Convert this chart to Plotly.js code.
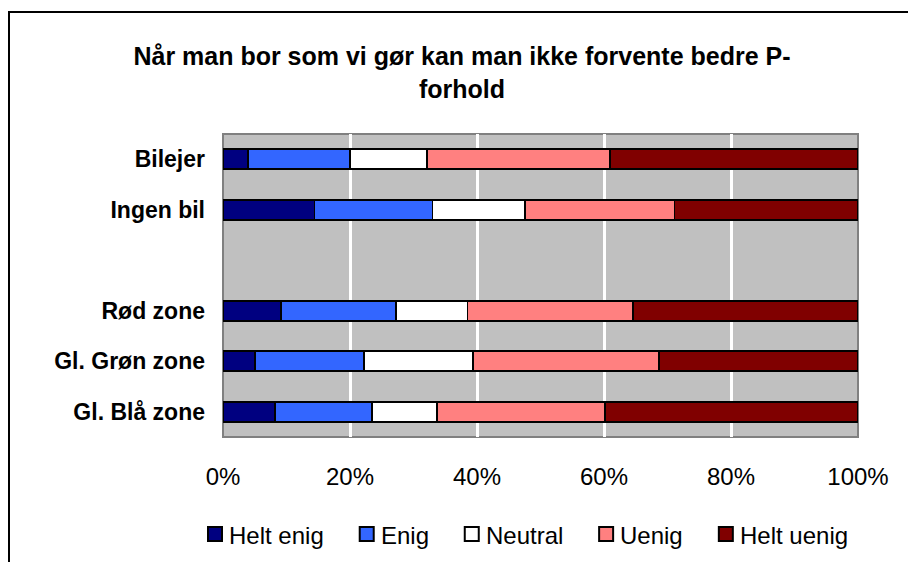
<!DOCTYPE html>
<html>
<head>
<meta charset="utf-8">
<script src="https://cdn.plot.ly/plotly-3.0.1.min.js"></script>
<style>
  html, body { margin: 0; padding: 0; background: #fff; }
  #wrap { position: relative; width: 908px; height: 562px; overflow: hidden; }
  #chart { position: absolute; left: 0; top: 0; width: 908px; height: 562px; }
  #frame { position: absolute; left: 8px; top: 11px; width: 920px; height: 600px;
           border-left: 2px solid #000; border-top: 2px solid #000; pointer-events: none; }
</style>
</head>
<body>
<div id="wrap">
  <div id="chart"></div>
  <div id="frame"></div>
</div>
<script>
// Categories (top to bottom); the blank entry is the empty gap row
const categories = ["Bilejer", "Ingen bil", " ", "Rød zone", "Gl. Grøn zone", "Gl. Blå zone"];
// Series values (percent)
const heltEnig  = [3.9, 14.4, null,  9.1,  5.1,  8.2];
const enig      = [16.1, 18.6, null, 18.2, 17.1, 15.3];
const neutral   = [12.1, 14.5, null, 11.2, 17.2, 10.2];
const uenig     = [28.8, 23.6, null, 26.1, 29.3, 26.5];
const heltUenig = [39.1, 28.9, null, 35.4, 31.3, 39.8];
const seriesNames = ["Helt enig", "Enig", "Neutral", "Uenig", "Helt uenig"];
const seriesColors = ["#000080", "#3366FF", "#FFFFFF", "#FF8080", "#800000"];
const xTickVals = [0, 20, 40, 60, 80, 100];
const xTickText = ["0%", "20%", "40%", "60%", "80%", "100%"];

const allSeries = [heltEnig, enig, neutral, uenig, heltUenig];
const FONT = "Liberation Sans, Arial, sans-serif";

// plot area in pixels
const W = 908, H = 562;
const PL = 223, PR = 858, PT = 134, PB = 437;
const px2x = px => (px - PL) / (PR - PL);
const px2y = py => (PB - py) / (PB - PT);

const traces = allSeries.map((vals, i) => ({
  type: "bar",
  orientation: "h",
  name: seriesNames[i],
  y: categories,
  x: vals,
  width: 0.4,
  marker: { color: seriesColors[i], line: { color: "#000", width: 1.8 } },
  hoverinfo: "name+x",
  showlegend: false
}));

// Custom legend (Excel-style: small box, tight gap, text)
const legendFont = 24;
const ctx = document.createElement("canvas").getContext("2d");
ctx.font = legendFont + "px 'Liberation Sans', Arial, sans-serif";
const legShapes = [], legAnn = [];
let lx = 207;
const symSize = 16, symGap = 5, itemGap = 36, legCY = 534;
seriesNames.forEach((name, i) => {
  legShapes.push({
    type: "rect", xref: "paper", yref: "paper",
    x0: px2x(lx + 1), x1: px2x(lx + symSize - 1),
    y0: px2y(legCY + symSize / 2 - 1), y1: px2y(legCY - symSize / 2 + 1),
    fillcolor: seriesColors[i], line: { color: "#000", width: 2 }, layer: "above"
  });
  const tx = lx + symSize + symGap;
  legAnn.push({
    xref: "paper", yref: "paper", x: px2x(tx - 1), y: px2y(legCY + 1),
    xanchor: "left", yanchor: "middle", showarrow: false, text: name,
    font: { family: FONT, size: legendFont, color: "#000" }
  });
  lx = tx + ctx.measureText(name).width + itemGap;
});

const layout = {
  width: W, height: H,
  margin: { l: PL, r: W - PR, t: PT, b: H - PB, pad: 0 },
  paper_bgcolor: "#fff",
  plot_bgcolor: "#C0C0C0",
  barmode: "stack",
  showlegend: false,
  title: {
    text: "<b>Når man bor som vi gør kan man ikke forvente bedre P-<br>forhold</b>",
    font: { family: FONT, size: 25, color: "#000" },
    x: 462 / W, xanchor: "center", xref: "container",
    y: 1 - 65 / H, yanchor: "top", yref: "container"
  },
  xaxis: {
    range: [0, 100],
    tickvals: xTickVals,
    ticktext: xTickText,
    showgrid: true, gridcolor: "#FFFFFF", gridwidth: 3,
    zeroline: false, showline: false,
    ticks: "", ticklabelstandoff: 23,
    tickfont: { family: FONT, size: 24, color: "#000" },
    fixedrange: true
  },
  yaxis: {
    type: "category",
    categoryorder: "array",
    categoryarray: categories,
    autorange: "reversed",
    showgrid: false, zeroline: false, showline: false,
    ticks: "", ticklabelstandoff: 17,
    tickfont: { family: FONT, size: 23, color: "#000", weight: "bold" },
    fixedrange: true
  },
  annotations: legAnn,
  shapes: [{
    type: "rect", xref: "paper", yref: "paper",
    x0: 0, x1: 1, y0: 0, y1: 1,
    line: { color: "#808080", width: 2 },
    layer: "between"
  }].concat(legShapes)
};

Plotly.newPlot("chart", traces, layout, { displayModeBar: false, staticPlot: true });
</script>
</body>
</html>
